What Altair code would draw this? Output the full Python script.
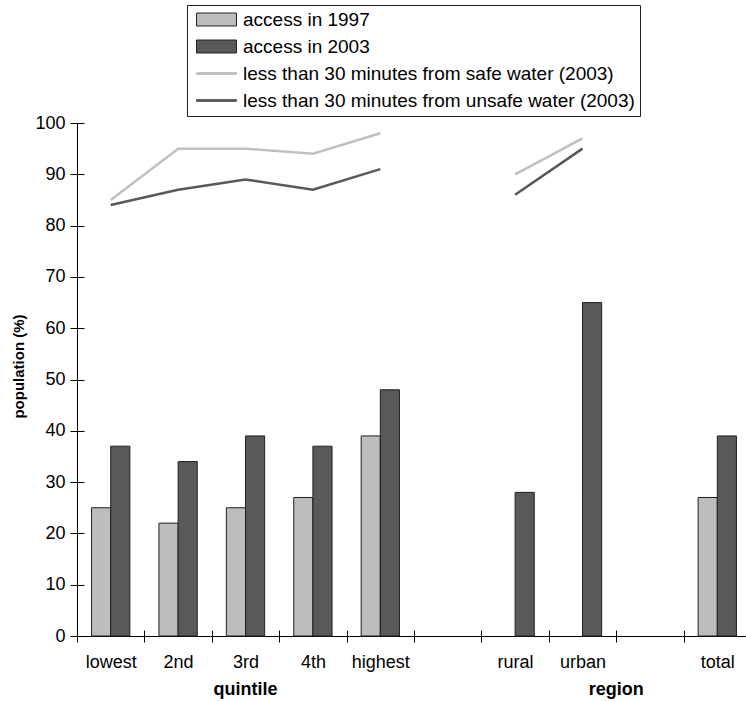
import altair as alt
import pandas as pd

# Categories along the x axis; the two "gap" slots stay empty.
categories = ["lowest", "2nd", "3rd", "4th", "highest", "gap1", "rural", "urban", "gap2", "total"]
gap_slots = ["gap1", "gap2"]

series_names = [
    "access in 1997",
    "access in 2003",
    "less than 30 minutes from safe water (2003)",
    "less than 30 minutes from unsafe water (2003)",
]

# Bar values (% of population)
cats_1997 = ["lowest", "2nd", "3rd", "4th", "highest", "total"]
access_1997 = [25, 22, 25, 27, 39, 27]
cats_2003 = ["lowest", "2nd", "3rd", "4th", "highest", "rural", "urban", "total"]
access_2003 = [37, 34, 39, 37, 48, 28, 65, 39]

# Line values (% of population)
line_cats = ["lowest", "2nd", "3rd", "4th", "highest", "rural", "urban"]
line_groups = ["quintile", "quintile", "quintile", "quintile", "quintile", "region", "region"]
safe_water = [85, 95, 95, 94, 98, 90, 97]
unsafe_water = [84, 87, 89, 87, 91, 86, 95]

# Group captions under the category labels
group_titles = ["quintile", "region"]
group_anchor = ["3rd", "urban"]

y_ticks = list(range(0, 101, 10))

LIGHT = "#bcbdbf"
DARK = "#58595b"
OUTLINE = "#231f20"
SAFE = "#bfc0c2"
UNSAFE = "#58595b"
FONT = "Liberation Sans"

W, H = 674, 513

bar_df = pd.DataFrame(
    {"cat": cats_1997 + cats_2003,
     "series": [series_names[0]] * len(cats_1997) + [series_names[1]] * len(cats_2003),
     "value": access_1997 + access_2003}
)

line_rows = []
for name, vals in ((series_names[2], safe_water), (series_names[3], unsafe_water)):
    for c, g, v in zip(line_cats, line_groups, vals):
        line_rows.append({"cat": c, "series": name, "seg": name + "|" + g,
                          "idx": categories.index(c), "value": v})
line_df = pd.DataFrame(line_rows)

key_df = pd.DataFrame({"series": series_names})
group_df = pd.DataFrame({"cat": group_anchor, "label": group_titles})

x_scale = alt.Scale(domain=categories, paddingInner=0, paddingOuter=0)
y_scale = alt.Scale(domain=[0, 100], nice=False)

label_expr = "indexof(" + str(gap_slots) + ", datum.value) >= 0 ? '' : datum.value"

x_axis_main = alt.Axis(
    orient="bottom", title=None, tickBand="extent", tickSize=6, labelPadding=11,
    labelExpr=label_expr, labelAngle=0, labelFontSize=18,
)
y_axis_main = alt.Axis(
    orient="left", title="population (%)", values=y_ticks, tickSize=7, labelPadding=5,
    labelFontSize=18, grid=False,
    titleFontWeight="bold", titleFontSize=15, titleAngle=270,
    titleX=-59, titleY=243, titleAlign="center", titleBaseline="middle",
)
# Inner halves of the tick marks, so ticks cross the axis lines
x_axis_inner = alt.Axis(
    orient="top", offset=-H, title=None, tickBand="extent", tickSize=6,
    labels=False, domain=False, grid=False,
)
y_axis_inner = alt.Axis(
    orient="right", offset=-W, title=None, values=y_ticks, tickSize=7,
    labels=False, domain=False, grid=False,
)

bars = alt.Chart(bar_df).mark_bar(stroke=OUTLINE, strokeWidth=1).encode(
    x=alt.X("cat:N", sort=categories, scale=x_scale, axis=x_axis_main),
    xOffset=alt.XOffset(
        "series:N",
        scale=alt.Scale(domain=series_names[:2], paddingInner=0, paddingOuter=0.76),
    ),
    y=alt.Y("value:Q", scale=y_scale, axis=y_axis_main),
    fill=alt.when(alt.datum.series == series_names[0]).then(alt.value(LIGHT)).otherwise(alt.value(DARK)),
)

lines = alt.Chart(line_df).mark_line(strokeWidth=2.5).encode(
    x=alt.X("cat:N", sort=categories, scale=x_scale, axis=x_axis_inner),
    y=alt.Y("value:Q", scale=y_scale, axis=y_axis_inner),
    stroke=alt.when(alt.datum.series == series_names[2]).then(alt.value(SAFE)).otherwise(alt.value(UNSAFE)),
    detail="seg:N",
    order="idx:Q",
)

# Legend keys: filled rectangles for bars, thin strips for lines
RECT = "M-2.22,-0.72H2.22V0.72H-2.22Z"
STRIP = "M-2.22,-0.1H2.22V0.1H-2.22Z"

legend = alt.Legend(
    title=None, orient="none", legendX=110, legendY=-118,
    strokeColor=OUTLINE, fillColor="white", padding=5, cornerRadius=0,
    labelFontSize=19, labelFont=FONT, labelColor="black", labelLimit=700,
    symbolSize=324, symbolStrokeWidth=1, symbolOffset=15, labelOffset=17,
    rowPadding=7,
)

keys = alt.Chart(key_df).mark_point(filled=True, opacity=1, strokeWidth=1).encode(
    x=alt.value(-600),
    y=alt.value(-600),
    shape=alt.Shape("series:N", scale=alt.Scale(domain=series_names, range=[RECT, RECT, STRIP, STRIP]), legend=legend),
    fill=alt.Fill("series:N", scale=alt.Scale(domain=series_names, range=[LIGHT, DARK, SAFE, UNSAFE]), legend=legend),
    stroke=alt.Stroke("series:N", scale=alt.Scale(domain=series_names, range=[OUTLINE, OUTLINE, SAFE, UNSAFE]), legend=legend),
)

text_base = alt.Chart(group_df).mark_text(
    font=FONT, fontSize=18, fontWeight="bold", color="black", baseline="alphabetic", align="center"
)
quintile_label = text_base.transform_filter(alt.datum.label == group_titles[0]).encode(
    x=alt.X("cat:N", sort=categories, scale=x_scale, axis=None, bandPosition=0.5),
    y=alt.value(H + 59),
    text="label:N",
)
region_label = text_base.transform_filter(alt.datum.label == group_titles[1]).encode(
    x=alt.X("cat:N", sort=categories, scale=x_scale, axis=None, bandPosition=1),
    y=alt.value(H + 59),
    text="label:N",
)

chart = (
    alt.layer(keys, bars, lines, quintile_label, region_label)
    .properties(
        width=W, height=H,
        padding={"left": 77, "top": 123, "right": -5, "bottom": 65},
        autosize=alt.AutoSizeParams(type="none"),
    )
    .configure(font=FONT, background="white")
    .configure_view(stroke=None)
    .configure_axis(
        domainColor="black", tickColor="black", labelColor="black", titleColor="black",
        labelFont=FONT, titleFont=FONT,
        domainWidth=1, tickWidth=1,
    )
)

chart.save("out.html", embed_options={"renderer": "svg", "actions": False})
